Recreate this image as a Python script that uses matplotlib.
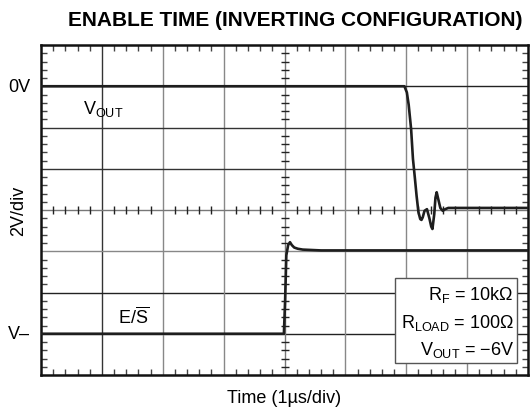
import numpy as np
import matplotlib
matplotlib.use("Agg")
import matplotlib.pyplot as plt
from matplotlib.patches import Rectangle

plt.rcParams['font.family'] = ['Liberation Sans', 'DejaVu Sans']
plt.rcParams['mathtext.fontset'] = 'custom'
plt.rcParams['mathtext.rm'] = 'Liberation Sans'
plt.rcParams['mathtext.it'] = 'Liberation Sans:italic'

# --- data (x in divisions of 1us, y in divisions of 2V, 0..8) ---
vout_t = [0.0, 5.97, 6.01, 6.04, 6.08, 6.11, 6.14, 6.17, 6.20, 6.23, 6.25, 6.27,
          6.30, 6.34, 6.38, 6.41, 6.43, 6.46, 6.48, 6.50, 6.52, 6.56, 6.60, 6.64, 6.69, 8.0]
vout_v = [7.0, 7.0, 6.85, 6.55, 5.96, 5.24, 4.80, 4.34, 3.95, 3.78, 3.76, 3.82,
          3.98, 4.02, 3.80, 3.60, 3.54, 3.90, 4.30, 4.43, 4.30, 4.05, 3.98, 4.02, 4.05, 4.05]

es_t = [0.0, 3.99, 4.01, 4.03, 4.06, 4.09, 4.12, 4.16, 4.22, 4.30, 4.45, 4.60, 8.0]
es_v = [1.0, 1.0, 1.8, 2.9, 3.15, 3.22, 3.15, 3.09, 3.06, 3.04, 3.03, 3.02, 3.02]

ytick_pos = [1, 7]
ytick_lbl = ['V\u2013', '0V']

legend_lines = ['R$_\\mathrm{F}$ = 10k\u03a9',
                'R$_\\mathrm{LOAD}$ = 100\u03a9',
                'V$_\\mathrm{OUT}$ = \u22126V']

fig = plt.figure(figsize=(5.31, 4.10), dpi=100)
ax = fig.add_axes([41/531, 34/410, 487/531, 330/410])
ax.set_xlim(0, 8)
ax.set_ylim(0, 8)

# graticule
vcols = ['#333333', '#888888', '#888888', '#777777', '#888888', '#888888', '#888888']
hcols = ['#222222', '#222222', '#888888', '#777777', '#333333', '#333333', '#222222']
for i in range(1, 8):
    ax.axvline(i, color=vcols[i-1], lw=1.0, zorder=1)
    ax.axhline(i, color=hcols[i-1], lw=1.0, zorder=1)

# center line ticks
minor = [m / 5 for m in range(1, 40) if m % 5 != 0]
ax.plot(minor, [4] * len(minor), ls='none', marker='|', ms=6, mew=1.0, color='#222222', zorder=2)
ax.plot([4] * len(minor), minor, ls='none', marker='_', ms=6, mew=1.0, color='#222222', zorder=2)

# border ticks
ax.set_xticks(range(0, 9))
ax.set_yticks(range(0, 9))
ax.set_xticks(minor, minor=True)
ax.set_yticks(minor, minor=True)
ax.tick_params(which='major', length=0, labelbottom=False, labelleft=False)
ax.tick_params(which='minor', direction='in', length=4, width=1.0, color='#444444',
               top=True, right=True, bottom=True, left=True)
for sp in ax.spines.values():
    sp.set_linewidth(1.8)
    sp.set_color('#111111')

# traces
ax.plot(vout_t, vout_v, color='#1e1e1e', lw=1.9, zorder=4, solid_joinstyle='round')
ax.plot(es_t, es_v, color='#1e1e1e', lw=1.9, zorder=4, solid_joinstyle='round')

# labels on traces
ax.text(0.69, 6.47, 'V$_\\mathrm{OUT}$', fontsize=13, va='center', ha='left')
ax.text(1.27, 1.43, 'E/$\\overline{\\mathrm{S}}$', fontsize=13, va='center', ha='left')

# y labels
for p, s in zip(ytick_pos, ytick_lbl):
    ax.text(-0.18, p, s, fontsize=13, ha='right', va='center')
ax.text(-0.36, 4, '2V/div', fontsize=13, rotation=90, ha='center', va='center')

ax.set_xlabel('Time (1\u00b5s/div)', fontsize=13, labelpad=7)

# conditions box
ax.add_patch(Rectangle((5.81, 0.29), 2.01, 2.06, facecolor='white', edgecolor='#555555',
                       lw=1.0, zorder=5))
for yy, s in zip([1.96, 1.28, 0.63], legend_lines):
    ax.text(7.77, yy, s, fontsize=13, ha='right', va='center', zorder=6)

fig.text(295/531, 1 - 20/410, 'ENABLE TIME (INVERTING CONFIGURATION)', fontsize=15,
         fontweight='bold', ha='center', va='center')

fig.savefig('out.png', dpi=100)
